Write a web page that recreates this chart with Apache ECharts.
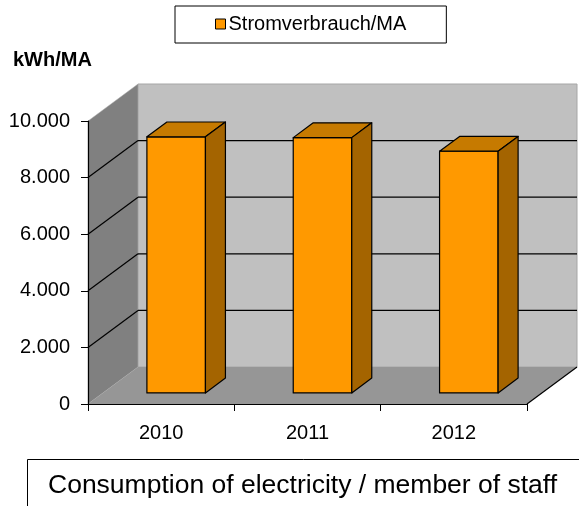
<!DOCTYPE html>
<html>
<head>
<meta charset="utf-8">
<script src="https://cdn.jsdelivr.net/npm/echarts@6/dist/echarts.min.js"></script>
<style>
  html, body { margin: 0; padding: 0; background: #fff; }
  #chart { width: 579px; height: 506px; }
</style>
</head>
<body>
<div id="chart"></div>
<script>
// data
const years = ["2010", "2011", "2012"];
const stromMA = [9050, 9020, 8540];
const yTicks = [0, 2000, 4000, 6000, 8000, 10000];

const FONT = "'Liberation Sans', Arial, sans-serif";
// depth of the fake 3d box (pixels)
const DX = 50, DY = -37;

const fmt = (v) => String(v).replace(/\B(?=(\d{3})+(?!\d))/g, ".");

function renderWalls(params, api) {
  const cs = params.coordSys;
  const x0 = cs.x, x1 = cs.x + cs.width, yT = cs.y, yB = cs.y + cs.height;
  const kids = [
    // back wall
    { type: "polygon", shape: { points: [[x0 + DX, yT + DY], [x1 + DX, yT + DY], [x1 + DX, yB + DY], [x0 + DX, yB + DY]] },
      style: { fill: "#c0c0c0", stroke: "#a6a6a6", lineWidth: 1 } },
    // left wall
    { type: "polygon", shape: { points: [[x0, yT], [x0 + DX, yT + DY], [x0 + DX, yB + DY], [x0, yB]] },
      style: { fill: "#808080", stroke: "#b0b0b0", lineWidth: 0.5 } },
    // floor
    { type: "polygon", shape: { points: [[x0, yB], [x1, yB], [x1 + DX, yB + DY], [x0 + DX, yB + DY]] },
      style: { fill: "#969696" } },
    { type: "line", shape: { x1: x1, y1: yB, x2: x1 + DX, y2: yB + DY },
      style: { stroke: "#000", lineWidth: 1.2 } }
  ];
  yTicks.slice(1, -1).forEach((v) => {
    const yy = api.coord([0, v])[1];
    kids.push({ type: "line", shape: { x1: x0 + DX, y1: yy + DY, x2: x1 + DX, y2: yy + DY }, style: { stroke: "#000", lineWidth: 1.2 } });
    kids.push({ type: "line", shape: { x1: x0, y1: yy, x2: x0 + DX, y2: yy + DY }, style: { stroke: "#000", lineWidth: 1.2 } });
  });
  return { type: "group", children: kids };
}

function renderBar(params, api) {
  const idx = api.value(0);
  const top = api.coord([idx, api.value(1)]);
  const base = api.coord([idx, 0]);
  const bw = api.size([1, 0])[0] * 0.4;
  const fx = DX * 0.3, fy = DY * 0.3, bx = DX * 0.4, by = DY * 0.4;
  const l = top[0] + fx - bw / 2, r = l + bw, t = top[1] + fy, b = base[1] + fy;
  const st = { stroke: "#000", lineWidth: 1.2, lineJoin: "round" };
  return {
    type: "group",
    children: [
      { type: "polygon", shape: { points: [[l, t], [r, t], [r, b], [l, b]] }, style: Object.assign({ fill: "#ff9900" }, st) },
      { type: "polygon", shape: { points: [[l, t], [l + bx, t + by], [r + bx, t + by], [r, t]] }, style: Object.assign({ fill: "#c67a00" }, st) },
      { type: "polygon", shape: { points: [[r, t], [r + bx, t + by], [r + bx, b + by], [r, b]] }, style: Object.assign({ fill: "#a46400" }, st) }
    ]
  };
}

const chart = echarts.init(document.getElementById("chart"), null, { renderer: "canvas" });
chart.setOption({
  animation: false,
  backgroundColor: "#fff",
  textStyle: { fontFamily: FONT },
  title: {
    text: "kWh/MA",
    left: 13, top: 50, padding: 0,
    textStyle: { fontFamily: FONT, fontSize: 20, fontWeight: "bold", color: "#000" }
  },
  legend: {
    data: [{ name: "Stromverbrauch/MA", icon: "rect", itemStyle: { color: "#ff9900", borderColor: "#000", borderWidth: 1 } }],
    left: 175, top: 6,
    padding: [8, 40, 9, 40],
    borderColor: "#000", borderWidth: 1,
    itemWidth: 10, itemHeight: 10, itemGap: 5,
    textStyle: { fontFamily: FONT, fontSize: 20, color: "#000", lineHeight: 20, padding: [0, 0, 0, -2] }
  },
  grid: { left: 88, right: 52, top: 121, bottom: 102 },
  xAxis: {
    type: "category",
    data: years,
    z: 5,
    axisLine: { lineStyle: { color: "#000", width: 1.2 } },
    axisTick: { show: true, length: 7, lineStyle: { color: "#000" } },
    axisLabel: { fontFamily: FONT, fontSize: 20, color: "#000", margin: 19 }
  },
  yAxis: {
    type: "value",
    min: yTicks[0], max: yTicks[yTicks.length - 1], interval: yTicks[1] - yTicks[0],
    z: 5,
    axisLine: { show: true, lineStyle: { color: "#000", width: 1.2 } },
    axisTick: { show: true, length: 7, lineStyle: { color: "#000" } },
    axisLabel: { fontFamily: FONT, fontSize: 20, color: "#000", margin: 18, formatter: fmt },
    splitLine: { show: false }
  },
  series: [
    { type: "custom", name: "walls", z: 1, silent: true, data: [[0, 0]], renderItem: renderWalls },
    {
      type: "custom", name: "Stromverbrauch/MA", z: 2,
      itemStyle: { color: "#ff9900" },
      encode: { x: 0, y: 1 },
      data: years.map((y, i) => [i, stromMA[i]]),
      renderItem: renderBar
    }
  ],
  graphic: [
    { type: "rect", shape: { x: 27.5, y: 459.5, width: 600, height: 100 }, style: { fill: "#fff", stroke: "#000", lineWidth: 1 } },
    { type: "text", x: 48, y: 486,
      style: { text: "Consumption of electricity / member of staff", font: "26.5px " + FONT, fill: "#000", verticalAlign: "middle" } }
  ]
});
</script>
</body>
</html>
